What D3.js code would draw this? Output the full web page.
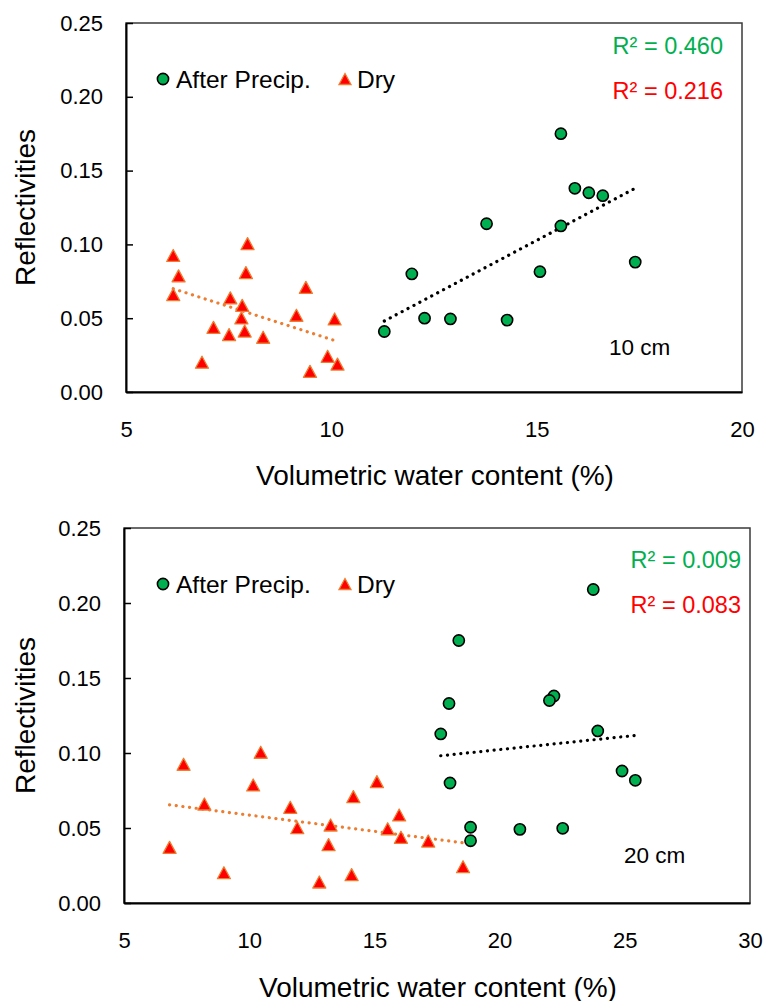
<!DOCTYPE html>
<html>
<head>
<meta charset="utf-8">
<script src="https://cdn.jsdelivr.net/npm/d3@7"></script>
<style>
  body { margin: 0; background: #fff; }
  text { font-family: Arial, "Liberation Sans", sans-serif; }
</style>
</head>
<body>
<div id="chart"></div>
<script>
// Data: volumetric water content (%) vs reflectivity
const vwc10After = [15.59, 15.93, 16.27, 16.61, 13.78, 15.59, 17.40, 11.96, 15.08, 12.27, 12.90, 14.28, 11.29];
const refl10After = [0.175, 0.138, 0.135, 0.133, 0.114, 0.1125, 0.088, 0.080, 0.0815, 0.050, 0.0495, 0.0487, 0.041];
const vwc10Dry = [7.96, 6.15, 6.28, 7.92, 9.38, 6.15, 7.54, 7.83, 7.81, 9.15, 10.08, 7.13, 7.51, 7.89, 8.34, 6.85, 9.91, 10.15, 9.48];
const refl10Dry = [0.1005, 0.0925, 0.0787, 0.0809, 0.0709, 0.066, 0.0638, 0.0587, 0.0502, 0.052, 0.0495, 0.0438, 0.0389, 0.0413, 0.0371, 0.0202, 0.0242, 0.0189, 0.014];

const vwc20After = [23.74, 18.37, 22.17, 21.99, 17.98, 23.92, 17.65, 24.89, 25.42, 18.02, 18.84, 20.81, 22.52, 18.84];
const refl20After = [0.209, 0.175, 0.138, 0.135, 0.133, 0.1147, 0.1127, 0.088, 0.0818, 0.080, 0.0505, 0.0491, 0.0498, 0.0415];
const vwc20Dry = [10.46, 7.38, 10.16, 15.10, 14.16, 8.21, 11.64, 15.99, 11.92, 13.25, 15.53, 16.06, 17.15, 13.17, 6.82, 18.54, 8.99, 14.09, 12.80];
const refl20Dry = [0.1005, 0.0925, 0.0787, 0.0809, 0.0709, 0.066, 0.0638, 0.0587, 0.0502, 0.052, 0.0495, 0.0438, 0.0413, 0.0389, 0.0371, 0.0242, 0.0202, 0.0189, 0.014];

const yTicks = [0, 0.05, 0.10, 0.15, 0.20, 0.25];
const xTicks10 = [5, 10, 15, 20];
const xTicks20 = [5, 10, 15, 20, 25, 30];
const seriesNames = ["After Precip.", "Dry"];
const r2Labels10 = ["R² = 0.460", "R² = 0.216"];
const r2Labels20 = ["R² = 0.009", "R² = 0.083"];

const width = 766, height = 1001;
const green = "#00b050", red = "#ff0000", orange = "#ed7d31";

const svg = d3.select("#chart").append("svg")
    .attr("width", width)
    .attr("height", height);

// Least squares line over the x range of the data
function fitLine(xs, ys) {
    const mx = d3.mean(xs), my = d3.mean(ys);
    let sxy = 0, sxx = 0;
    xs.forEach((x, i) => { sxy += (x - mx) * (ys[i] - my); sxx += (x - mx) * (x - mx); });
    const b = sxy / sxx, a = my - b * mx;
    const x0 = d3.min(xs), x1 = d3.max(xs);
    return [[x0, a + b * x0], [x1, a + b * x1]];
}

function triangle(w, h) {
    return `M0,${-h / 2}L${w / 2},${h / 2}L${-w / 2},${h / 2}Z`;
}

function drawPanel(p) {
    const g = svg.append("g");

    const x = d3.scaleLinear().domain(p.xDomain).range([p.left, p.right]);
    const y = d3.scaleLinear().domain([0, 0.25]).range([p.bottom, p.top]);

    // frame
    g.append("rect")
        .attr("x", p.left).attr("y", p.top)
        .attr("width", p.right - p.left).attr("height", p.bottom - p.top)
        .attr("fill", "none").attr("stroke", "#3a3a3a").attr("stroke-width", 1.5);

    // y axis, ticks pointing inwards
    const yAxis = g.append("g")
        .attr("transform", `translate(${p.left},0)`)
        .call(d3.axisLeft(y).tickValues(yTicks).tickFormat(d3.format(".2f"))
            .tickSizeInner(-7).tickSizeOuter(0).tickPadding(23));
    yAxis.select(".domain").attr("stroke", "#000").attr("stroke-width", 2);
    yAxis.selectAll(".tick line").attr("stroke", "#000").attr("stroke-width", 1.5);
    yAxis.selectAll("text").attr("font-size", 22).attr("fill", "#000")
        .style("font-family", "Arial, 'Liberation Sans', sans-serif");

    // x axis, no tick marks
    const xAxis = g.append("g")
        .attr("transform", `translate(0,${p.bottom})`)
        .call(d3.axisBottom(x).tickValues(p.xTicks).tickFormat(d3.format("d"))
            .tickSize(0).tickPadding(29));
    xAxis.select(".domain").attr("stroke", "#000").attr("stroke-width", 2);
    xAxis.selectAll("text").attr("font-size", 22).attr("fill", "#000")
        .style("font-family", "Arial, 'Liberation Sans', sans-serif");

    // axis titles
    g.append("text")
        .attr("x", (p.left + p.right) / 2 + 1).attr("y", p.xTitleY)
        .attr("text-anchor", "middle").attr("font-size", 28)
        .text("Volumetric water content (%)");
    g.append("text")
        .attr("transform", `translate(35,${(p.top + p.bottom) / 2}) rotate(-90)`)
        .attr("text-anchor", "middle").attr("font-size", 28)
        .text("Reflectivities");

    // trendlines
    const line = d3.line().x(d => x(d[0])).y(d => y(d[1]));
    g.append("path")
        .attr("d", line(fitLine(p.dryX, p.dryY)))
        .attr("fill", "none").attr("stroke", orange).attr("stroke-width", 3.2)
        .attr("stroke-linecap", "round").attr("stroke-dasharray", "0.1 6.6");

    // dry markers
    g.append("g").selectAll("path")
        .data(p.dryX)
        .join("path")
        .attr("d", triangle(13, 12))
        .attr("transform", (d, i) => `translate(${x(d)},${y(p.dryY[i])})`)
        .attr("fill", red).attr("stroke", orange).attr("stroke-width", 1.3)
        .attr("stroke-linejoin", "round");

    g.append("path")
        .attr("d", line(fitLine(p.wetX, p.wetY)))
        .attr("fill", "none").attr("stroke", "#000").attr("stroke-width", 3.2)
        .attr("stroke-linecap", "round").attr("stroke-dasharray", "0.1 6.6");

    // after precipitation markers
    g.append("g").selectAll("circle")
        .data(p.wetX)
        .join("circle")
        .attr("cx", d => x(d))
        .attr("cy", (d, i) => y(p.wetY[i]))
        .attr("r", 5.6)
        .attr("fill", green).attr("stroke", "#000").attr("stroke-width", 1.6);

    // legend
    g.append("circle")
        .attr("cx", 163).attr("cy", p.legendY).attr("r", 5.6)
        .attr("fill", green).attr("stroke", "#000").attr("stroke-width", 1.6);
    g.append("text")
        .attr("x", 176).attr("y", p.legendY + 9).attr("font-size", 24.5)
        .text(seriesNames[0]);
    g.append("path")
        .attr("d", triangle(12, 11))
        .attr("transform", `translate(345,${p.legendY})`)
        .attr("fill", red).attr("stroke", orange).attr("stroke-width", 1.3);
    g.append("text")
        .attr("x", 357).attr("y", p.legendY + 9).attr("font-size", 24.5)
        .text(seriesNames[1]);

    // R² labels
    g.append("text")
        .attr("x", p.r2X).attr("y", p.r2Y[0]).attr("text-anchor", "end")
        .attr("font-size", 23.5).attr("fill", green)
        .text(p.r2[0]);
    g.append("text")
        .attr("x", p.r2X).attr("y", p.r2Y[1]).attr("text-anchor", "end")
        .attr("font-size", 23.5).attr("fill", red)
        .text(p.r2[1]);

    // depth label
    g.append("text")
        .attr("x", p.depthX).attr("y", p.depthY).attr("font-size", 22.5)
        .text(p.depth);
}

drawPanel({
    left: 126, right: 742, top: 23, bottom: 392,
    xDomain: [5, 20], xTicks: xTicks10, xTitleY: 485,
    wetX: vwc10After, wetY: refl10After, dryX: vwc10Dry, dryY: refl10Dry,
    legendY: 79, r2: r2Labels10, r2X: 723, r2Y: [54, 99],
    depth: "10 cm", depthX: 609, depthY: 355
});

drawPanel({
    left: 124, right: 750, top: 528, bottom: 903,
    xDomain: [5, 30], xTicks: xTicks20, xTitleY: 997,
    wetX: vwc20After, wetY: refl20After, dryX: vwc20Dry, dryY: refl20Dry,
    legendY: 584, r2: r2Labels20, r2X: 741, r2Y: [568, 613],
    depth: "20 cm", depthX: 624, depthY: 863
});
</script>
</body>
</html>
